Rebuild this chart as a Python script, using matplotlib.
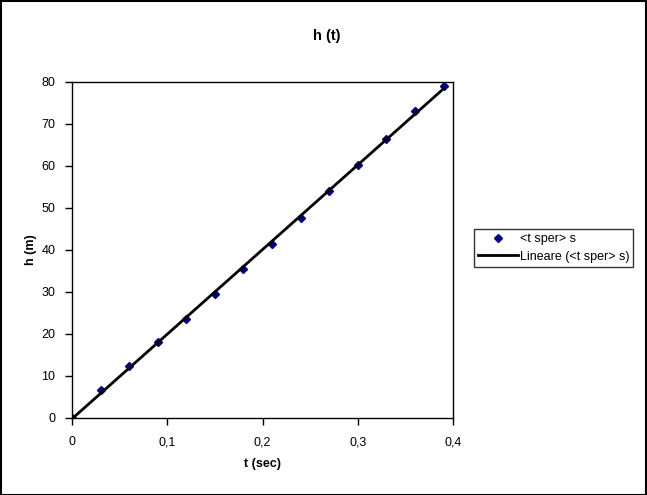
import matplotlib
matplotlib.use('Agg')
import matplotlib.pyplot as plt
from matplotlib.ticker import FuncFormatter
import numpy as np

plt.rcParams['font.family'] = ['Liberation Sans', 'DejaVu Sans']

t = [0, 0.03, 0.06, 0.09, 0.12, 0.15, 0.18, 0.21, 0.24, 0.27, 0.30, 0.33, 0.36, 0.39]
h = [0, 6.7, 12.4, 18.0, 23.6, 29.4, 35.5, 41.4, 47.7, 54.0, 60.2, 66.4, 73.0, 79.0]

# linear trendline
coef = np.polyfit(t, h, 1)
t_fit = np.array([t[0], t[-1]])
h_fit = np.polyval(coef, t_fit)

fig = plt.figure(figsize=(6.47, 4.95), dpi=100)
fig.patches.append(plt.Rectangle((0.001, 0.001), 0.997, 0.997, transform=fig.transFigure,
                                 fill=False, edgecolor='black', linewidth=1.5))
ax = fig.add_axes([0.1113, 0.1556, 0.5889, 0.6788])

ax.plot(t, h, linestyle='none', marker='D', markersize=4.5, color='#000080', label='<t sper> s')
ax.plot(t_fit, h_fit, color='black', linewidth=2, label='Lineare (<t sper> s)')

ax.set_xlim(0, 0.4)
ax.set_ylim(0, 80)
ax.set_xticks([0, 0.1, 0.2, 0.3, 0.4])
ax.set_yticks(range(0, 81, 10))
ax.xaxis.set_major_formatter(FuncFormatter(lambda v, p: ('%g' % round(v, 2)).replace('.', ',')))
ax.tick_params(direction='out', length=5, width=1, labelsize=9)
ax.tick_params(axis='x', pad=8)
ax.tick_params(axis='y', pad=7)
for s in ax.spines.values():
    s.set_linewidth(1)

fig.text(0.505, 0.928, 'h (t)', ha='center', va='center', fontsize=10.5, fontweight='bold')
ax.set_xlabel('t (sec)', fontsize=9, fontweight='bold', labelpad=7)
ax.set_ylabel('h (m)', fontsize=9, fontweight='bold', labelpad=3)

leg = ax.legend(loc='upper left', bbox_to_anchor=(1.055, 0.561), fontsize=9, frameon=True,
                fancybox=False, edgecolor='black', borderpad=0.3, handlelength=3.2,
                handletextpad=0.2, labelspacing=0.45, borderaxespad=0)
leg.get_frame().set_linewidth(1)

fig.savefig('out.png', dpi=100)
